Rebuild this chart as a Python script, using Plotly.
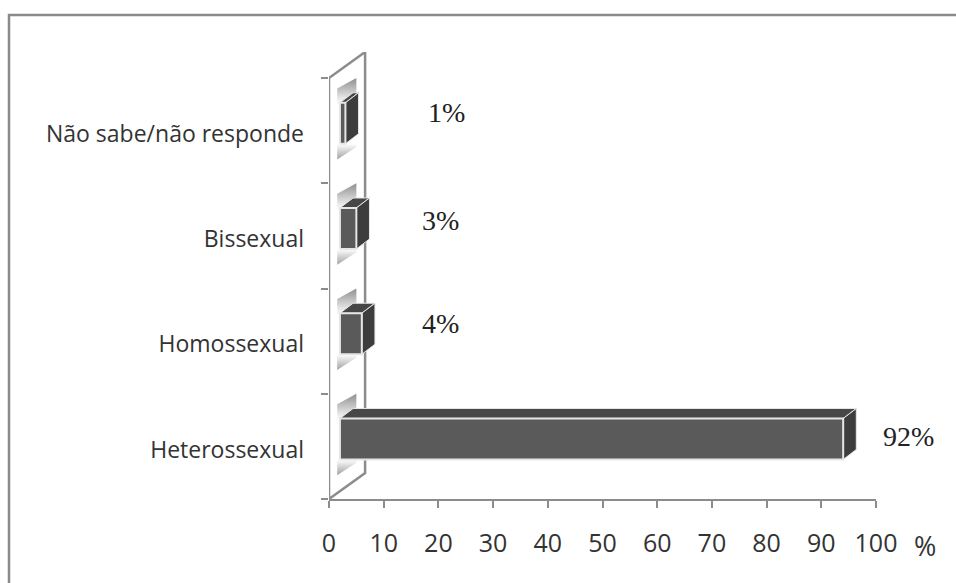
"""Sexual orientation bars drawn with a fake 3D look."""
import plotly.graph_objects as go

categories = ["Heterossexual", "Homossexual", "Bissexual", "Não sabe/não responde"]
values = [92, 4, 3, 1]
value_labels = ["92%", "4%", "3%", "1%"]
x_ticks = [0, 10, 20, 30, 40, 50, 60, 70, 80, 90, 100]

BASE = 2.0  # bars start a little inside the wall
DX, DY = 2.4, 0.095  # depth of the bars
WALL_DX, WALL_DY = 6.6, 0.247
HALF = 0.195
LIFT = 0.07
FRONT = "#5a5a5a"
TOP = "#474747"
SIDE = "#3d3d3d"
EDGE = "#e6e6e6"
AXIS = "#8c8c8c"
TEXT = "#333333"

W, H = 956, 583
L, R, T, B = 329, 876, 52, 499
Y_UNIT = 105.25


def paper(px, py):
    return (px - L) / (R - L), (B - py) / (B - T)


def poly(xs, ys, fill, line=None, width=1.5):
    return go.Scatter(
        x=xs, y=ys, mode="lines", fill="toself", fillcolor=fill, hoverinfo="skip",
        line=dict(color=line or fill, width=width), showlegend=False, cliponaxis=False,
    )


fig = go.Figure()

# wall behind the bars
fig.add_trace(go.Scatter(
    x=[0, 0, WALL_DX, WALL_DX, 0],
    y=[-0.5, 3.5, 3.5 + WALL_DY, -0.5 + WALL_DY, -0.5],
    mode="lines", line=dict(color=AXIS, width=2.5), hoverinfo="skip",
    showlegend=False, cliponaxis=False,
))

# soft shadows on the wall, above and under each bar
for i in range(len(values)):
    cy = i + LIFT
    x0, x1 = BASE - 0.5, BASE + 3.0
    top = cy + HALF + DY
    fig.add_trace(go.Scatter(
        x=[x0, x1, x1, x0, x0], y=[top - 0.12, top, top + 0.14, top + 0.04, top - 0.12],
        mode="lines", fill="toself", line=dict(width=0), hoverinfo="skip", showlegend=False,
        fillgradient=dict(type="vertical", colorscale=[[0, "#ffffff"], [0.25, "#e8e8e8"], [1, "#8e8e8e"]]),
    ))
    low = cy - HALF
    fig.add_trace(go.Scatter(
        x=[x0, x1, x1, x0, x0], y=[low, low, low - 0.03, low - 0.15, low],
        mode="lines", fill="toself", line=dict(width=0), hoverinfo="skip", showlegend=False,
        fillgradient=dict(type="vertical", colorscale=[[0, "#a0a0a0"], [0.75, "#e8e8e8"], [1, "#ffffff"]]),
    ))

# bar faces
for i, v in enumerate(values):
    cy = i + LIFT
    x0, x1 = BASE, BASE + v
    y0, y1 = cy - HALF, cy + HALF
    fig.add_trace(poly([x0, x1, x1 + DX, x0 + DX, x0], [y1, y1, y1 + DY, y1 + DY, y1], TOP, EDGE, 1))
    fig.add_trace(poly([x1, x1 + DX, x1 + DX, x1, x1], [y0, y0 + DY, y1 + DY, y1, y0], SIDE, EDGE, 1))
    fig.add_trace(poly([x0, x1, x1, x0, x0], [y0, y0, y1, y1, y0], FRONT, EDGE, 2))

frame = [paper(9, 583), paper(9, 15), paper(956, 15)]
label_spots = [(908, 436), (440, 323), (440, 220), (446, 112)]
annotations = [
    dict(text="%", xref="paper", yref="paper", x=paper(925, 545)[0], y=paper(925, 545)[1],
         xanchor="center", yanchor="middle", showarrow=False,
         font=dict(size=27, family="Open Sans", color=TEXT)),
]
for label, (px, py) in zip(value_labels, label_spots):
    ax, ay = paper(px, py)
    annotations.append(dict(text=label, xref="paper", yref="paper", x=ax, y=ay,
                            xanchor="center", yanchor="middle", showarrow=False,
                            font=dict(family="Liberation Serif", size=28, color="#222222")))

fig.update_layout(
    width=W, height=H,
    margin=dict(l=L, r=W - R, t=T, b=H - B, autoexpand=False),
    paper_bgcolor="white", plot_bgcolor="white",
    showlegend=False,
    font=dict(family="Open Sans", color=TEXT, size=19),
    shapes=[dict(type="path", xref="paper", yref="paper",
                 path="M " + " L ".join(f"{x},{y}" for x, y in frame),
                 line=dict(color="#8a8a8a", width=2.5))],
    annotations=annotations,
)
fig.update_xaxes(
    range=[0, 100], tickvals=x_ticks, showgrid=False, zeroline=False,
    showline=True, linecolor=AXIS, linewidth=2, tickfont=dict(size=25),
    ticks="outside", ticklen=7, tickwidth=2, tickcolor=AXIS, ticklabelstandoff=14,
)
fig.update_yaxes(
    range=[-0.5, (B - T) / Y_UNIT - 0.5], tickvals=[i - 0.03 for i in range(len(categories))],
    ticktext=categories, showgrid=False, zeroline=False, showline=False,
    ticks="", ticklabelstandoff=24, tickfont=dict(size=23),
    minor=dict(tickvals=[-0.5, 0.5, 1.5, 2.5, 3.5], ticks="outside", ticklen=7, tickwidth=2, tickcolor=AXIS),
)

fig.write_html("out.html", config=dict(displayModeBar=False),
               post_script="document.body.style.margin = '0';")
